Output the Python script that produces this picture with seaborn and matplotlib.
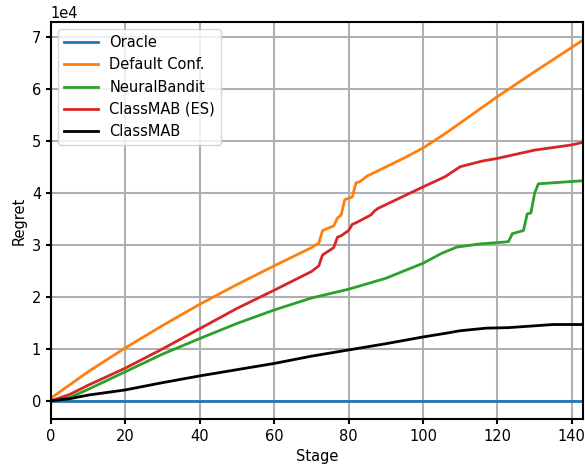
import matplotlib
matplotlib.use("Agg")
import matplotlib.pyplot as plt
import seaborn as sns
import pandas as pd

# valores (regret em unidades de 1e4)
oracle_x = [0, 143]
oracle_y = [0, 0]

default_x = [0, 10, 20, 30, 40, 50, 60, 70, 72, 73, 76, 77, 78, 79, 80, 81, 82, 83, 85,
             95, 100, 106, 120, 130, 143]
default_y = [0.05, 0.56, 1.02, 1.45, 1.86, 2.24, 2.6, 2.95, 3.04, 3.28, 3.37, 3.52, 3.58,
             3.88, 3.9, 3.93, 4.2, 4.22, 4.33, 4.68, 4.87, 5.15, 5.86, 6.34, 6.95]

es_x = [0, 5, 10, 20, 30, 40, 50, 60, 70, 72, 73, 76, 77, 78, 80, 81, 82, 86, 87, 88,
        100, 106, 110, 116, 120, 130, 140, 143]
es_y = [0, 0.12, 0.3, 0.63, 1.0, 1.39, 1.78, 2.13, 2.49, 2.6, 2.81, 2.95, 3.15, 3.18,
        3.28, 3.4, 3.43, 3.58, 3.66, 3.71, 4.12, 4.32, 4.51, 4.62, 4.67, 4.83, 4.93, 4.98]

neural_x = [0, 5, 10, 20, 30, 40, 50, 60, 70, 80, 90, 100, 105, 109, 115, 122, 123,
            124, 127, 128, 129, 130, 131, 143]
neural_y = [0, 0.06, 0.22, 0.56, 0.9, 1.2, 1.49, 1.75, 1.98, 2.15, 2.36, 2.65, 2.84,
            2.96, 3.02, 3.06, 3.07, 3.22, 3.28, 3.6, 3.62, 4.0, 4.18, 4.24]

classmab_x = [0, 5, 10, 20, 30, 40, 50, 60, 70, 80, 90, 100, 106, 110, 117, 123, 135, 143]
classmab_y = [0, 0.04, 0.11, 0.21, 0.35, 0.48, 0.6, 0.72, 0.86, 0.98, 1.1, 1.23, 1.3,
              1.35, 1.4, 1.41, 1.47, 1.47]

series = [
    ('Oracle', oracle_x, oracle_y, '#1f77b4'),
    ('Default Conf.', default_x, default_y, '#ff7f0e'),
    ('NeuralBandit', neural_x, neural_y, '#2ca02c'),
    ('ClassMAB (ES)', es_x, es_y, '#d62728'),
    ('ClassMAB', classmab_x, classmab_y, 'black'),
]

plt.rcParams['font.size'] = 10.5

fig, ax = plt.subplots(figsize=(5.85, 4.68), dpi=100)

for nome, xs, ys, cor in series:
    df = pd.DataFrame({'Stage': xs, 'Regret': [v * 1e4 for v in ys]})
    sns.lineplot(data=df, x='Stage', y='Regret', color=cor, linewidth=2, label=nome, ax=ax)

ax.set_xlim(0, 143)
ax.set_xlabel('Stage')
ax.set_ylabel('Regret')
ax.grid(True, color='#b0b0b0', linewidth=1.5)
ax.set_axisbelow(True)
for s in ax.spines.values():
    s.set_linewidth(1.5)
ax.tick_params(width=1.5)
ax.ticklabel_format(axis='y', style='sci', scilimits=(0, 0))
ax.legend(loc='upper left', handlelength=2.3)

plt.subplots_adjust(left=0.087, right=0.9966, top=0.953, bottom=0.105)
plt.savefig('out.png')
